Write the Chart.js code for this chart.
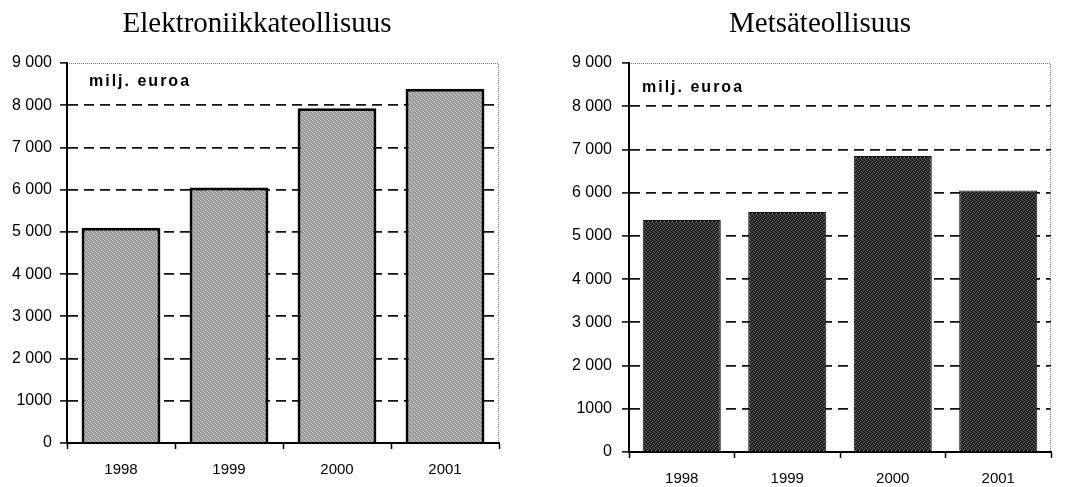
<!DOCTYPE html>
<html>
<head>
<meta charset="utf-8">
<script src="https://cdn.jsdelivr.net/npm/chart.js@4.4.0/dist/chart.umd.min.js"></script>
<style>
  html, body { margin: 0; padding: 0; background: #fff; overflow: hidden; }
  .box { position: absolute; top: 0; height: 487px; }
  #leftBox { left: 0; width: 520px; }
  #rightBox { left: 530px; width: 535px; }
</style>
</head>
<body>
<div class="box" id="leftBox"><canvas id="elektro"></canvas></div>
<div class="box" id="rightBox"><canvas id="metsa"></canvas></div>
<script>
const years = ['1998', '1999', '2000', '2001'];
const elektroValues = [5100, 6050, 7930, 8390];
const metsaValues = [5370, 5550, 6850, 6050];
const yTickLabels = ['0', '1000', '2 000', '3 000', '4 000', '5 000', '6 000', '7 000', '8 000', '9 000'];
const unitLabel = 'milj. euroa';

// small stipple pattern so the bars look like the scanned print
function makePattern(base, dot) {
  const c = document.createElement('canvas');
  c.width = 4; c.height = 4;
  const g = c.getContext('2d');
  g.fillStyle = base;
  g.fillRect(0, 0, 4, 4);
  g.fillStyle = dot;
  [[0, 0], [2, 1], [1, 2], [3, 3]].forEach(p => g.fillRect(p[0], p[1], 1, 1));
  return g.createPattern(c, 'repeat');
}

// title, dotted top/right frame and the unit text inside the plot
const framePlugin = {
  id: 'frame',
  afterDatasetsDraw(chart, args, opts) {
    const ctx = chart.ctx;
    const a = chart.chartArea;
    ctx.save();
    ctx.strokeStyle = '#777';
    ctx.lineWidth = 1;
    ctx.setLineDash([1, 1]);
    ctx.beginPath();
    ctx.moveTo(a.left, a.top + 0.5);
    ctx.lineTo(a.right - 0.5, a.top + 0.5);
    ctx.lineTo(a.right - 0.5, a.bottom);
    ctx.stroke();
    ctx.setLineDash([]);

    ctx.fillStyle = '#000';
    ctx.textBaseline = 'alphabetic';
    ctx.textAlign = 'center';
    ctx.font = '29px "Liberation Serif"';
    ctx.fillText(opts.title, opts.titleX, 32);

    ctx.textAlign = 'left';
    ctx.textBaseline = 'middle';
    ctx.font = 'bold 16px "Liberation Sans"';
    ctx.letterSpacing = '2px';
    ctx.fillText(unitLabel, a.left + opts.dx, a.top + opts.dy);
    ctx.restore();
  }
};

function makeChart(id, title, values, fill, border, borderWidth, cfg) {
  return new Chart(document.getElementById(id), {
    type: 'bar',
    data: {
      labels: years,
      datasets: [{
        data: values,
        backgroundColor: fill,
        borderColor: border,
        borderWidth: borderWidth,
        categoryPercentage: 1,
        barPercentage: cfg.bar
      }]
    },
    options: {
      responsive: true,
      maintainAspectRatio: false,
      animation: false,
      layout: { padding: { left: 0, right: cfg.padRight, top: 63, bottom: 0 } },
      plugins: {
        legend: { display: false },
        tooltip: { enabled: false },
        title: { display: false },
        frame: { title: title, titleX: cfg.titleX, dx: cfg.unitX, dy: cfg.unitY }
      },
      scales: {
        x: {
          afterFit: s => { s.height = cfg.xHeight; },
          grid: { display: true, drawOnChartArea: false, drawTicks: true, tickLength: 6, tickColor: '#000', tickWidth: 1.5 },
          border: { display: true, color: '#000', width: 2, z: 1 },
          ticks: { color: '#000', padding: 12, font: { family: '"Liberation Sans"', size: 15 } }
        },
        y: {
          min: 0,
          max: 9000,
          afterFit: s => { s.width = cfg.yWidth; },
          grid: {
            color: c => (c.tick && (c.tick.value === 9000 || c.tick.value === 0)) ? 'rgba(0,0,0,0)' : '#111',
            lineWidth: 1.8,
            tickLength: 7,
            tickColor: '#000',
            tickWidth: 1.5
          },
          border: { display: true, color: '#000', width: 2, dash: [10, 6], z: 1 },
          ticks: {
            stepSize: 1000,
            color: '#000',
            padding: cfg.yPad,
            font: { family: '"Liberation Sans"', size: 16 },
            callback: (v, i) => yTickLabels[i]
          }
        }
      }
    },
    plugins: [framePlugin]
  });
}

makeChart('elektro', 'Elektroniikkateollisuus', elektroValues,
  makePattern('#989898', '#d0d0d0'), '#000', 3,
  { bar: 0.73, padRight: 21, yWidth: 67, yPad: 8, xHeight: 44, titleX: 257, unitX: 22, unitY: 19 });

makeChart('metsa', 'Metsäteollisuus', metsaValues,
  makePattern('#1e1e1e', '#747474'), '#111', 1,
  { bar: 0.74, padRight: 14, yWidth: 99, yPad: 10, xHeight: 35, titleX: 290, unitX: 13, unitY: 25 });
</script>
</body>
</html>
